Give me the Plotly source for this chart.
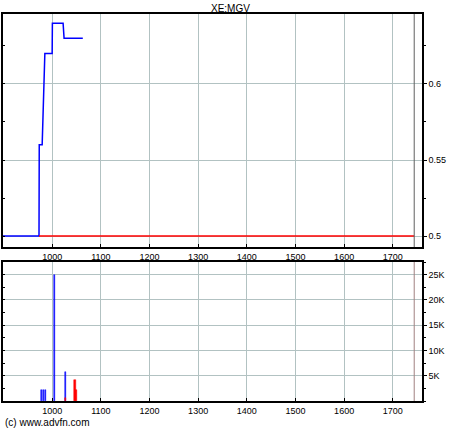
import plotly.graph_objects as go

# ---- data ----
title_text = "XE:MGV"
credit_text = "(c) www.advfn.com"

price_x = [899, 973, 973.5, 979.5, 985, 1000, 1000.5, 1022.5, 1024.5, 1063]
price_y = [0.5, 0.5, 0.56, 0.56, 0.62, 0.62, 0.64, 0.64, 0.63, 0.63]

ref_x = [973, 1744]
ref_y = [0.5, 0.5]

vol_up_x = [977.5, 981.6, 986.5, 1004, 1026.6]
vol_up_y = [2200, 2200, 2200, 25000, 5800]
vol_dn_x = [1027.6, 1047, 1049]
vol_dn_y = [600, 4100, 2100]

marker_x = 1744

x_ticks = [1000, 1100, 1200, 1300, 1400, 1500, 1600, 1700]
price_ticks = [0.5, 0.55, 0.6]
price_tick_text = ["0.5", "0.55", "0.6"]
vol_ticks = [5000, 10000, 15000, 20000, 25000]
vol_tick_text = ["5K", "10K", "15K", "20K", "25K"]

x_range = [899, 1760]
price_range = [0.4928, 0.646]
vol_range = [0, 27500]

# ---- figure ----
W, H = 460, 430
FONT = "Liberation Sans, Arial, sans-serif"
GRID = "#b2c2c2"

fig = go.Figure()
fig.add_trace(go.Scatter(x=price_x, y=price_y, mode="lines",
                         line=dict(color="#0000ff", width=1.5),
                         xaxis="x", yaxis="y", hoverinfo="skip"))
fig.add_trace(go.Scatter(x=ref_x, y=ref_y, mode="lines",
                         line=dict(color="#ff0000", width=1.5),
                         xaxis="x", yaxis="y", hoverinfo="skip"))
fig.add_trace(go.Bar(x=vol_up_x, y=vol_up_y, width=[2.2] * len(vol_up_x),
                     marker=dict(color="#0000ff",
                                 line=dict(width=0.5, color="#0000ff")),
                     xaxis="x2", yaxis="y2", hoverinfo="skip"))
fig.add_trace(go.Bar(x=vol_dn_x, y=vol_dn_y, width=[2.2, 2.2, 3],
                     marker=dict(color="#ff0000",
                                 line=dict(width=0.5, color="#ff0000")),
                     xaxis="x2", yaxis="y2", hoverinfo="skip"))

def px_to_paper_y(py):
    return (H - py) / H

xdom = [3 / W, 422 / W]
top_dom = [px_to_paper_y(247), px_to_paper_y(14)]
bot_dom = [px_to_paper_y(401), px_to_paper_y(262)]

tickfont = dict(family=FONT, size=9, color="#000000")

xcommon = dict(range=x_range, tickvals=x_ticks, showgrid=True, gridcolor=GRID,
               gridwidth=1, zeroline=False, showline=True, linecolor="#000000",
               linewidth=1.5, mirror=True, ticks="inside", ticklen=3,
               tickcolor="#000000", tickfont=tickfont, domain=xdom)

fig.update_layout(
    width=W, height=H, margin=dict(l=0, r=0, t=0, b=0),
    paper_bgcolor="#ffffff", plot_bgcolor="#ffffff",
    showlegend=False, barmode="overlay", bargap=0,
    xaxis=dict(anchor="y", **xcommon),
    xaxis2=dict(anchor="y2", **xcommon),
    yaxis=dict(anchor="x", domain=top_dom, range=price_range, side="right",
               tickvals=price_ticks, ticktext=price_tick_text,
               showgrid=True, gridcolor=GRID, zeroline=False,
               showline=True, linecolor="#000000", linewidth=1.5, mirror=True,
               ticks="outside", ticklen=3, tickcolor="#000000", tickfont=tickfont,
               ticklabelstandoff=0,
               minor=dict(ticks="outside", ticklen=2, dtick=0.025, tick0=0.5,
                          tickcolor="#000000", showgrid=False)),
    yaxis3=dict(overlaying="y", anchor="x", side="left", range=price_range,
                tick0=0.5, dtick=0.025, ticks="inside", ticklen=2,
                tickcolor="#000000", showticklabels=False, showgrid=False,
                zeroline=False, showline=False),
    yaxis2=dict(anchor="x2", domain=bot_dom, range=vol_range, side="right",
                tickvals=vol_ticks, ticktext=vol_tick_text,
                showgrid=True, gridcolor=GRID, zeroline=False,
                showline=True, linecolor="#000000", linewidth=1.5, mirror=True,
                ticks="outside", ticklen=3, tickcolor="#000000", tickfont=tickfont,
                ticklabelstandoff=0,
                minor=dict(ticks="outside", ticklen=2, dtick=2500, tick0=0,
                           tickcolor="#000000", showgrid=False)),
    yaxis4=dict(overlaying="y2", anchor="x2", side="left", range=vol_range,
                tick0=0, dtick=2500, ticks="inside", ticklen=2,
                tickcolor="#000000", showticklabels=False, showgrid=False,
                zeroline=False, showline=False),
)

# invisible traces so overlay axes render
fig.add_trace(go.Scatter(x=[x_range[0]], y=[price_range[0]], mode="markers",
                         marker=dict(opacity=0), xaxis="x", yaxis="y3",
                         hoverinfo="skip"))
fig.add_trace(go.Scatter(x=[x_range[0]], y=[vol_range[0]], mode="markers",
                         marker=dict(opacity=0), xaxis="x2", yaxis="y4",
                         hoverinfo="skip"))

# vertical marker line
fig.add_shape(type="line", xref="x", yref="y domain", x0=marker_x, x1=marker_x,
              y0=0, y1=1, line=dict(color="#606060", width=1))
fig.add_shape(type="line", xref="x2", yref="y2 domain", x0=marker_x, x1=marker_x,
              y0=0, y1=1, line=dict(color="#a08080", width=1))

fig.add_annotation(text=title_text, xref="paper", yref="paper",
                   x=230 / W, y=px_to_paper_y(8), showarrow=False,
                   font=dict(family=FONT, size=10, color="#000000"),
                   xanchor="center", yanchor="middle")
fig.add_annotation(text=credit_text, xref="paper", yref="paper",
                   x=3 / W, y=px_to_paper_y(422), showarrow=False,
                   font=dict(family=FONT, size=10, color="#000000"),
                   xanchor="left", yanchor="middle")

fig.write_html("out.html",
               config={"displayModeBar": False},
               post_script="document.body.style.margin='0';"
                           "document.body.style.overflow='hidden';")
